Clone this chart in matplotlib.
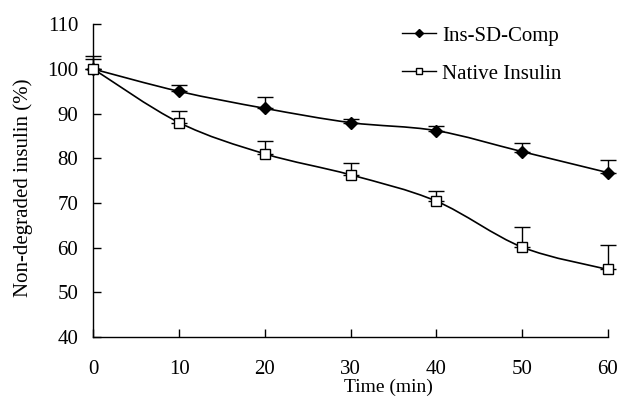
import matplotlib
matplotlib.use("Agg")
import matplotlib.pyplot as plt
from matplotlib.path import Path
from matplotlib.patches import PathPatch
from matplotlib.lines import Line2D
import numpy as np

# valores
time = [0, 10, 20, 30, 40, 50, 60]
comp = [100, 95.0, 91.2, 88.0, 86.2, 81.5, 76.8]
comp_err = [2.2, 1.4, 2.6, 0.9, 1.1, 2.0, 2.9]
native = [100, 88.0, 81.0, 76.3, 70.4, 60.1, 55.1]
native_err = [3.0, 2.5, 2.8, 2.7, 2.2, 4.6, 5.5]

x_ticks = [0, 10, 20, 30, 40, 50, 60]
y_ticks = [40, 50, 60, 70, 80, 90, 100, 110]


def smooth_path(xs, ys):
    # curva suave estilo Excel (Catmull-Rom -> Bezier)
    pts = np.column_stack([xs, ys]).astype(float)
    n = len(pts)
    verts = [pts[0]]
    codes = [Path.MOVETO]
    for i in range(n - 1):
        p0 = pts[max(i - 1, 0)]
        p1 = pts[i]
        p2 = pts[i + 1]
        p3 = pts[min(i + 2, n - 1)]
        c1 = p1 + (p2 - p0) / 6
        c2 = p2 - (p3 - p1) / 6
        verts += [c1, c2, p2]
        codes += [Path.CURVE4] * 3
    return Path(verts, codes)


plt.rcParams["font.family"] = ["Liberation Serif", "DejaVu Serif"]
plt.rcParams["font.size"] = 15

fig = plt.figure(figsize=(6.19, 4.01), dpi=100)
ax = fig.add_axes([0.151, 0.16, 0.831, 0.779])

for ys in (comp, native):
    ax.add_patch(PathPatch(smooth_path(time, ys), fill=False, lw=1.2, color="black",
                           zorder=2, clip_on=False))

for ys, err in ((comp, comp_err), (native, native_err)):
    eb = ax.errorbar(time, ys, yerr=[np.zeros(len(err)), err], fmt="none",
                     ecolor="black", elinewidth=1, capsize=6, capthick=1, zorder=1)
    for art in eb.lines[1] + eb.lines[2]:
        art.set_clip_on(False)

ax.plot(time, comp, linestyle="none", marker="D", ms=6.5, color="black", zorder=3,
        clip_on=False)
ax.plot(time, native, linestyle="none", marker="s", ms=7, mfc="white", mec="black",
        mew=1, zorder=3, clip_on=False)

ax.set_xlim(0, 60)
ax.set_ylim(40, 110)
ax.set_xticks(x_ticks)
ax.set_yticks(y_ticks)
ax.tick_params(direction="in", length=6, width=1)
ax.tick_params(axis="x", pad=17)
ax.tick_params(axis="y", pad=11)
for side in ("top", "right"):
    ax.spines[side].set_visible(False)
for side in ("left", "bottom"):
    ax.spines[side].set_linewidth(1)

ax.set_xlabel("Time (min)", fontsize=14)
ax.xaxis.set_label_coords(0.574, -0.135)
ax.set_ylabel("Non-degraded insulin (%)")
ax.yaxis.set_label_coords(-0.118, 0.478)

handles = [
    Line2D([], [], color="black", lw=1, marker="D", ms=4),
    Line2D([], [], color="black", lw=1, marker="s", ms=4.5, mfc="white", mec="black"),
]
ax.legend(handles, ["Ins-SD-Comp", "Native Insulin"], loc="upper left",
          bbox_to_anchor=(0.60, 0.995), frameon=False, borderaxespad=0, borderpad=0,
          handlelength=1.63, handletextpad=0.3, labelspacing=0.89)

fig.savefig("out.png", dpi=100)
